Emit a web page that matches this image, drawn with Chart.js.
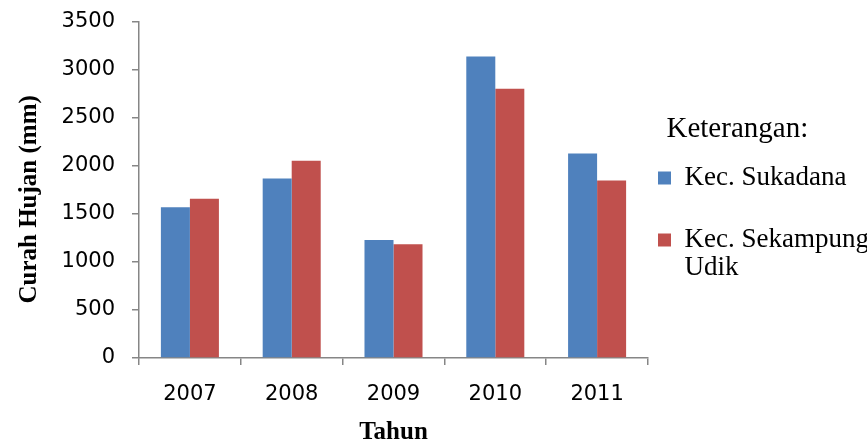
<!DOCTYPE html>
<html>
<head>
<meta charset="utf-8">
<script src="https://cdn.jsdelivr.net/npm/chart.js@4"></script>
<style>
  html, body { margin: 0; padding: 0; background: #ffffff; }
  #wrap { position: relative; width: 867px; height: 445px; }
</style>
</head>
<body>
<div id="wrap"><canvas id="c" width="867" height="445"></canvas></div>
<script>
// ---- data ----
const categories = ['2007', '2008', '2009', '2010', '2011'];
const seriesNames = ['Kec. Sukadana', 'Kec. Sekampung Udik'];
const sukadana = [1570, 1870, 1230, 3140, 2130];
const sekampung = [1660, 2055, 1185, 2805, 1850];
const yTicks = [0, 500, 1000, 1500, 2000, 2500, 3000, 3500];
const legendTitle = 'Keterangan:';
const legendLines = [['Kec. Sukadana', ''], ['Kec. Sekampung', 'Udik']];
const xTitle = 'Tahun';
const yTitle = 'Curah Hujan (mm)';

const axisGrey = '#868686';
const serif = '"Liberation Serif", "Times New Roman", serif';
const sans = '"DejaVu Sans", sans-serif';

new Chart(document.getElementById('c'), {
  type: 'bar',
  data: {
    labels: categories,
    datasets: [
      { label: seriesNames[0], data: sukadana, backgroundColor: '#4F81BD', borderWidth: 0 },
      { label: seriesNames[1], data: sekampung, backgroundColor: '#C0504D', borderWidth: 0 }
    ]
  },
  options: {
    responsive: false,
    animation: false,
    events: [],
    layout: { padding: { top: 22, left: 0, right: 0, bottom: 0 } },
    datasets: { bar: { categoryPercentage: 0.57, barPercentage: 1.0 } },
    plugins: {
      tooltip: { enabled: false },
      legend: {
        position: 'right',
        align: 'start',
        maxWidth: 215,
        title: {
          display: true,
          text: '\u00A0\u00A0' + legendTitle,
          color: '#000',
          position: 'start',
          font: { family: serif, size: 29, lineHeight: 28 / 29 },
          padding: { top: 92.5, bottom: 16 }
        },
        labels: {
          color: '#000',
          boxWidth: 13,
          boxHeight: 13,
          padding: 6,
          font: { family: serif, size: 27, lineHeight: 28 / 27 },
          generateLabels: function (chart) {
            const items = Chart.defaults.plugins.legend.labels.generateLabels(chart);
            items.forEach((it, i) => { it.text = legendLines[i]; it.lineWidth = 0; });
            return items;
          }
        }
      }
    },
    scales: {
      x: {
        grid: { display: true, drawOnChartArea: false, drawTicks: true, tickLength: 7, color: axisGrey, lineWidth: 1.5, offset: true },
        border: { display: true, color: axisGrey, width: 1.5 },
        ticks: { color: '#000', padding: 17, font: { family: sans, size: 21 }, maxRotation: 0, autoSkip: false },
        title: {
          display: true, text: xTitle, color: '#000',
          font: { family: serif, size: 25, weight: 'bold', lineHeight: 1 },
          padding: { top: 0, bottom: 0 }
        },
        afterFit: function (s) { s.height = 87; }
      },
      y: {
        min: 0, max: 3500,
        afterBuildTicks: function (s) { s.ticks = yTicks.map(v => ({ value: v })); },
        grid: { display: true, drawOnChartArea: false, drawTicks: true, tickLength: 7, color: axisGrey, lineWidth: 1.5 },
        border: { display: true, color: axisGrey, width: 1.5 },
        ticks: {
          color: '#000', padding: 17, font: { family: sans, size: 21, lineHeight: 0.45 },
          callback: function (v) { return String(v); }
        },
        title: {
          display: true, text: yTitle + '\u00A0\u00A0\u00A0', color: '#000',
          font: { family: serif, size: 25, weight: 'bold', lineHeight: 1 },
          padding: { top: 17.5, bottom: 0 }
        },
        afterFit: function (s) { s.width = 139; }
      },
      gap: {
        type: 'linear',
        position: 'right',
        display: true,
        grid: { display: false },
        border: { display: false },
        ticks: { display: false },
        afterFit: function (s) { s.width = 4; }
      }
    }
  }
});
</script>
</body>
</html>
